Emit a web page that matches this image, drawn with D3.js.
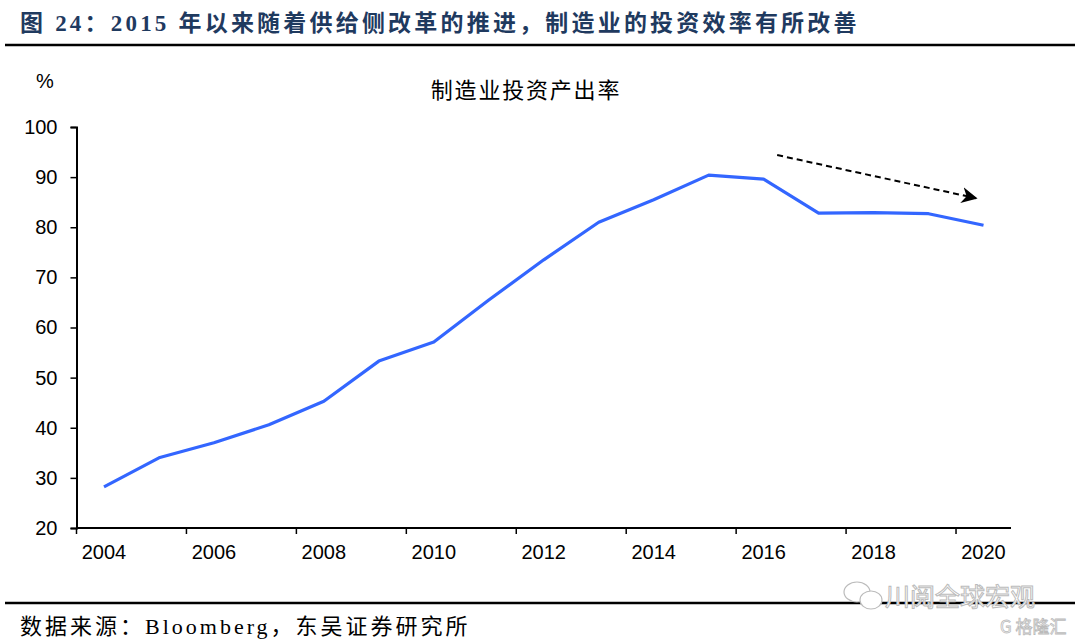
<!DOCTYPE html>
<html>
<head>
<meta charset="utf-8">
<script src="https://cdn.jsdelivr.net/npm/d3@7"></script>
<style>
  body { margin: 0; background: #fff; }
  svg { display: block; }
</style>
</head>
<body>
<svg id="chart" width="1080" height="644"></svg>
<script>
// data
const years = ["2004", "2005", "2006", "2007", "2008", "2009", "2010", "2011", "2012",
    "2013", "2014", "2015", "2016", "2017", "2018", "2019", "2020"];
const ratio = [28.2, 34.0, 37.0, 40.6, 45.3, 53.3, 57.1, 65.5, 73.5,
    81.0, 85.5, 90.4, 89.6, 82.8, 82.9, 82.7, 80.4];
const yTicks = [20, 30, 40, 50, 60, 70, 80, 90, 100];
const xTickLabels = ["2004", "2006", "2008", "2010", "2012", "2014", "2016", "2018", "2020"];

const svg = d3.select("#chart");
const latin = "'Liberation Sans', Arial, 'Noto Sans CJK SC', sans-serif";
const serif = "'Liberation Serif', 'Times New Roman', 'Noto Sans CJK SC', serif";

// header
svg.append("text")
    .attr("x", 20)
    .attr("y", 31)
    .attr("font-family", serif)
    .attr("font-weight", "bold")
    .attr("font-size", 23)
    .attr("letter-spacing", 3.2)
    .attr("fill", "#1f3a5f")
    .text("图 24：2015 年以来随着供给侧改革的推进，制造业的投资效率有所改善");

svg.append("line")
    .attr("x1", 5).attr("x2", 1075)
    .attr("y1", 45).attr("y2", 45)
    .attr("stroke", "#000")
    .attr("stroke-width", 2.5);

// scales
const x = d3.scaleBand()
    .domain(years)
    .range([76.5, 1011]);

const y = d3.scaleLinear()
    .domain([20, 100])
    .range([528, 127]);

const g = svg.append("g");

// y axis
const yAxis = g.append("g")
    .attr("transform", "translate(76.5,0)")
    .call(d3.axisLeft(y).tickValues(yTicks).tickSize(6).tickPadding(13));
yAxis.select(".domain").attr("stroke-width", 2);
yAxis.selectAll("text")
    .attr("font-family", latin)
    .attr("font-size", 20)
    .attr("fill", "#000");
yAxis.selectAll("line").attr("stroke-width", 1.5);

// x axis: ticks at left edge of each labelled band, labels centered
const xAxis = g.append("g")
    .attr("transform", "translate(0,528)");
xAxis.append("line")
    .attr("x1", 76.5).attr("x2", 1011)
    .attr("stroke", "#000")
    .attr("stroke-width", 2);
xAxis.selectAll(".tk")
    .data(xTickLabels)
    .join("line")
    .attr("class", "tk")
    .attr("x1", d => x(d)).attr("x2", d => x(d))
    .attr("y1", 0).attr("y2", 6)
    .attr("stroke", "#000")
    .attr("stroke-width", 1.5);
xAxis.selectAll(".lbl")
    .data(xTickLabels)
    .join("text")
    .attr("class", "lbl")
    .attr("x", d => x(d) + x.bandwidth() / 2)
    .attr("y", 31)
    .attr("text-anchor", "middle")
    .attr("font-family", latin)
    .attr("font-size", 20)
    .attr("fill", "#000")
    .text(d => d);

// unit + chart title
svg.append("text")
    .attr("x", 45).attr("y", 88)
    .attr("text-anchor", "middle")
    .attr("font-family", latin)
    .attr("font-size", 20)
    .text("%");

svg.append("text")
    .attr("x", 526).attr("y", 98)
    .attr("text-anchor", "middle")
    .attr("font-family", latin)
    .attr("font-size", 22)
    .attr("letter-spacing", 1.8)
    .text("制造业投资产出率");

// line
const line = d3.line()
    .x((d, i) => x(years[i]) + x.bandwidth() / 2)
    .y(d => y(d));

g.append("path")
    .datum(ratio)
    .attr("d", line)
    .attr("fill", "none")
    .attr("stroke", "#3366ff")
    .attr("stroke-width", 3.2)
    .attr("stroke-linejoin", "round");

// dashed trend arrow
svg.append("defs").append("marker")
    .attr("id", "arrow")
    .attr("viewBox", "0 0 10 10")
    .attr("refX", 9).attr("refY", 5)
    .attr("markerWidth", 16).attr("markerHeight", 16)
    .attr("markerUnits", "userSpaceOnUse")
    .attr("orient", "auto")
    .append("path")
    .attr("d", "M0,0 L10,5 L0,10 L3,5 Z")
    .attr("fill", "#000");

svg.append("line")
    .attr("x1", x("2016") + 41).attr("y1", y(94.4))
    .attr("x2", x("2020") + 20).attr("y2", y(85.8))
    .attr("stroke", "#000")
    .attr("stroke-width", 2)
    .attr("stroke-dasharray", "6,4")
    .attr("marker-end", "url(#arrow)");

// footer
svg.append("line")
    .attr("x1", 5).attr("x2", 1075)
    .attr("y1", 603).attr("y2", 603)
    .attr("stroke", "#000")
    .attr("stroke-width", 2.5);

svg.append("text")
    .attr("x", 20).attr("y", 634)
    .attr("font-family", serif)
    .attr("font-size", 22)
    .attr("letter-spacing", 3)
    .attr("fill", "#000")
    .text("数据来源：Bloomberg，东吴证券研究所");

// watermark
const wm = svg.append("g")
    .attr("fill", "#fff")
    .attr("stroke", "#bbb");
wm.append("ellipse")
    .attr("cx", 857).attr("cy", 592).attr("rx", 13).attr("ry", 10)
    .attr("stroke-width", 1.2);
wm.append("ellipse")
    .attr("cx", 871).attr("cy", 600).attr("rx", 11).attr("ry", 9)
    .attr("stroke-width", 1.2);
wm.append("text")
    .attr("x", 885).attr("y", 606)
    .attr("font-family", "'Noto Sans CJK SC', sans-serif")
    .attr("font-size", 25)
    .attr("stroke-width", 1)
    .text("川阅全球宏观");
wm.append("text")
    .attr("x", 1000).attr("y", 633)
    .attr("font-family", "'Noto Sans CJK SC', sans-serif")
    .attr("font-size", 17)
    .attr("stroke-width", 0.8)
    .text("G 格隆汇");
</script>
</body>
</html>
